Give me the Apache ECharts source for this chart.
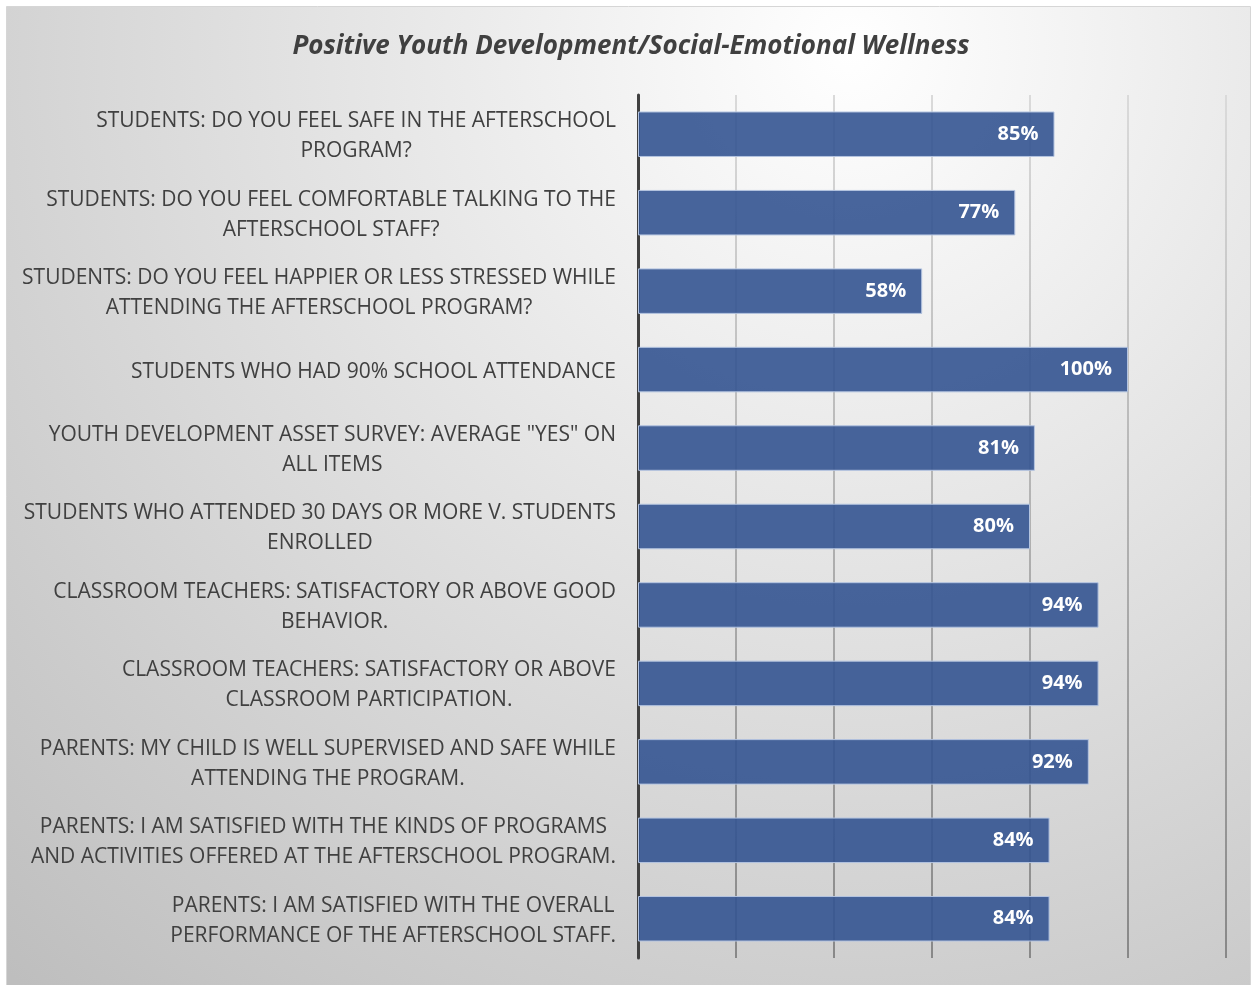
<!DOCTYPE html>
<html>
<head>
<meta charset="utf-8">
<script src="https://cdn.jsdelivr.net/npm/echarts@6/dist/echarts.min.js"></script>
<style>
html,body{margin:0;padding:0;background:#fff;}
#chart{width:1253px;height:985px;}
</style>
</head>
<body>
<div id="chart"></div>
<script>
const titleText = 'Positive Youth Development/Social-Emotional Wellness';
const categories = [
  'STUDENTS: DO YOU FEEL SAFE IN THE AFTERSCHOOL\nPROGRAM?',
  'STUDENTS: DO YOU FEEL COMFORTABLE TALKING TO THE\nAFTERSCHOOL STAFF?',
  'STUDENTS: DO YOU FEEL HAPPIER OR LESS STRESSED WHILE\nATTENDING THE AFTERSCHOOL PROGRAM?',
  'STUDENTS WHO HAD 90% SCHOOL ATTENDANCE',
  'YOUTH DEVELOPMENT ASSET SURVEY: AVERAGE "YES" ON\nALL ITEMS',
  'STUDENTS WHO ATTENDED 30 DAYS OR MORE V. STUDENTS\nENROLLED',
  'CLASSROOM TEACHERS: SATISFACTORY OR ABOVE GOOD\nBEHAVIOR.',
  'CLASSROOM TEACHERS: SATISFACTORY OR ABOVE\nCLASSROOM PARTICIPATION.',
  'PARENTS: MY CHILD IS WELL SUPERVISED AND SAFE WHILE\nATTENDING THE PROGRAM.',
  'PARENTS: I AM SATISFIED WITH THE KINDS OF PROGRAMS\nAND ACTIVITIES OFFERED AT THE AFTERSCHOOL PROGRAM.',
  'PARENTS: I AM SATISFIED WITH THE OVERALL\nPERFORMANCE OF THE AFTERSCHOOL STAFF.'
];
const values = [85, 77, 58, 100, 81, 80, 94, 94, 92, 84, 84];
const axisMin = 0, axisMax = 120, axisStep = 20;

const chart = echarts.init(document.getElementById('chart'), null, {renderer: 'canvas'});
const FONT = '"Open Sans", "Noto Sans", sans-serif';
chart.setOption({
  animation: false,
  backgroundColor: '#ffffff',
  graphic: [{
    type: 'rect', z: -100, zlevel: 0, silent: true,
    shape: {x: 6.5, y: 6.5, width: 1244, height: 990},
    style: {
      fill: {
        type: 'radial', x: 850, y: 50, r: 1250, global: true,
        colorStops: [{offset: 0, color: '#ffffff'}, {offset: 1, color: '#bebebe'}]
      },
      stroke: '#d6d6d6', lineWidth: 1
    }
  }],
  title: {
    text: titleText,
    left: 626, top: 29, textAlign: 'center',
    textStyle: {fontFamily: FONT, fontSize: 26, fontWeight: 'bold', fontStyle: 'italic', color: '#404040'}
  },
  grid: {left: 638, right: 27, top: 95, bottom: 27, containLabel: false},
  xAxis: {
    type: 'value', min: axisMin, max: axisMax, interval: axisStep,
    axisLabel: {show: false}, axisLine: {show: false}, axisTick: {show: false},
    splitLine: {show: true, lineStyle: {
      width: 2,
      color: {type: 'linear', x: 0, y: 95, x2: 0, y2: 958, global: true,
        colorStops: [{offset: 0, color: '#dadada'}, {offset: 1, color: '#888888'}]}
    }}
  },
  yAxis: {
    type: 'category', data: categories, inverse: true,
    axisLine: {show: true, lineStyle: {color: '#404040', width: 3}},
    axisTick: {show: false},
    axisLabel: {
      margin: 22, fontFamily: FONT, fontSize: 21, color: '#404040', lineHeight: 30, align: 'right',
      padding: [4, 0, 0, 0],
      formatter: function (v) {
        return v.split('\n').map(function (l) { return '{c|' + l + '}'; }).join('\n');
      },
      rich: {
        c: {align: 'center', fontFamily: FONT, fontSize: 21, color: '#404040', lineHeight: 30}
      }
    }
  },
  series: [{
    type: 'bar', data: values, barCategoryGap: '42%',
    itemStyle: {color: 'rgba(52,84,145,0.9)', borderColor: '#b4c4e0', borderWidth: 1},
    label: {
      show: true, position: 'insideRight', distance: 16, formatter: '{c}%',
      padding: [4, 0, 0, 0],
      fontFamily: FONT, fontSize: 20, fontWeight: 'bold', color: '#ffffff'
    }
  }]
});
</script>
</body>
</html>
